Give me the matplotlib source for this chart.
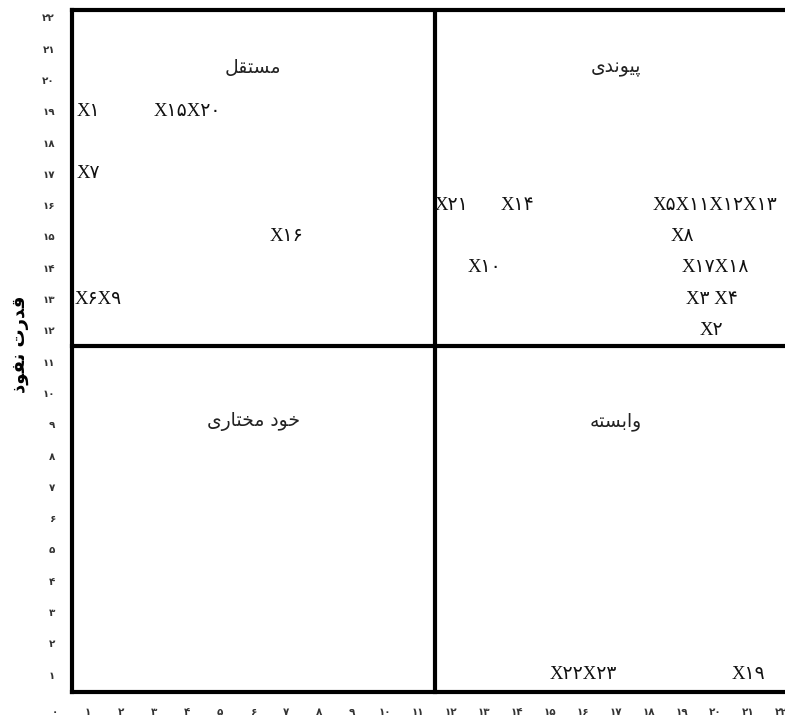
import matplotlib
matplotlib.use("Agg")
import matplotlib.pyplot as plt

# MICMAC map: dependence (x) vs driving power (y)
labels = ["X۱", "X۱۵X۲۰", "X۷", "X۱۶", "X۶X۹",
          "X۲۱", "X۱۴", "X۵X۱۱X۱۲X۱۳", "X۸", "X۱۰", "X۱۷X۱۸", "X۳ X۴", "X۲",
          "X۲۲X۲۳", "X۱۹"]
dependence = [1, 4, 1, 7, 1.3,
              12, 14, 20, 19, 13, 20, 19.9, 19.9,
              16, 21]
driving = [19, 19, 17, 15, 13,
           16, 16, 16, 15, 14, 14, 13, 12,
           1, 1]

quad_names = ["مستقل", "پیوندی", "خود مختاری", "وابسته"]
quad_x = [6, 17, 6, 17]
quad_y = [20.4, 20.4, 9.1, 9.1]

y_title = "قدرت نفوذ"
x_ticks = list(range(0, 23))
y_ticks = list(range(1, 23))

FA_DIGITS = str.maketrans("0123456789", "۰۱۲۳۴۵۶۷۸۹")

# presentation forms: isolated, final, initial, medial
FORMS = {
    "ا": (0xFE8D, 0xFE8E, None, None),
    "ب": (0xFE8F, 0xFE90, 0xFE91, 0xFE92),
    "ت": (0xFE95, 0xFE96, 0xFE97, 0xFE98),
    "خ": (0xFEA5, 0xFEA6, 0xFEA7, 0xFEA8),
    "د": (0xFEA9, 0xFEAA, None, None),
    "ذ": (0xFEAB, 0xFEAC, None, None),
    "ر": (0xFEAD, 0xFEAE, None, None),
    "س": (0xFEB1, 0xFEB2, 0xFEB3, 0xFEB4),
    "ف": (0xFED1, 0xFED2, 0xFED3, 0xFED4),
    "ق": (0xFED5, 0xFED6, 0xFED7, 0xFED8),
    "ل": (0xFEDD, 0xFEDE, 0xFEDF, 0xFEE0),
    "م": (0xFEE1, 0xFEE2, 0xFEE3, 0xFEE4),
    "ن": (0xFEE5, 0xFEE6, 0xFEE7, 0xFEE8),
    "ه": (0xFEE9, 0xFEEA, 0xFEEB, 0xFEEC),
    "و": (0xFEED, 0xFEEE, None, None),
    "پ": (0xFB56, 0xFB57, 0xFB58, 0xFB59),
    "ی": (0xFBFC, 0xFBFD, 0xFBFE, 0xFBFF),
}


def shape(text):
    """Join Persian letters and reverse for left-to-right drawing."""
    out = []
    for i, ch in enumerate(text):
        f = FORMS.get(ch)
        if f is None:
            out.append(ch)
            continue
        prev = FORMS.get(text[i - 1]) if i > 0 else None
        nxt = FORMS.get(text[i + 1]) if i + 1 < len(text) else None
        j_prev = prev is not None and prev[2] is not None
        j_next = f[2] is not None and nxt is not None
        if j_prev and j_next:
            code = f[3]
        elif j_prev:
            code = f[1]
        elif j_next:
            code = f[2]
        else:
            code = f[0]
        out.append(chr(code))
    return "".join(reversed(out))


LO, MID = 0.5, 11.5
XMAX, YMAX = 22.5, 22.25

fig = plt.figure(figsize=(7.85, 7.19), dpi=100)
ax = fig.add_axes([0.0701, 0.0181, 0.9459, 0.9686])
ax.set_xlim(0, XMAX)
ax.set_ylim(0, YMAX)
for s in ax.spines.values():
    s.set_visible(False)

lw = 3
ax.plot([LO, LO], [0.45, YMAX], color="black", lw=lw, solid_capstyle="projecting", clip_on=False)
ax.plot([LO, XMAX], [0.45, 0.45], color="black", lw=lw, solid_capstyle="projecting", clip_on=False)
ax.plot([LO, XMAX], [YMAX - 0.02, YMAX - 0.02], color="black", lw=lw, clip_on=False)
ax.plot([MID, MID], [0.45, YMAX], color="black", lw=lw)
ax.plot([LO, XMAX], [MID, MID], color="black", lw=lw)

ax.set_xticks(x_ticks)
ax.set_yticks(y_ticks)
ax.set_xticklabels([str(t).translate(FA_DIGITS) for t in x_ticks])
ax.set_yticklabels([str(t).translate(FA_DIGITS) for t in y_ticks])
ax.tick_params(length=0, labelsize=7.5, labelcolor="#333333")
ax.tick_params(axis="x", pad=0.5)
ax.tick_params(axis="y", pad=0)
for lab in ax.get_xticklabels() + ax.get_yticklabels():
    lab.set_fontfamily(["DejaVu Sans"])
    lab.set_fontweight("bold")

for lab, x, y in zip(labels, dependence, driving):
    ax.text(x, y, lab, ha="center", va="center", fontsize=13.5, color="#111111",
            family=["Liberation Serif", "DejaVu Sans"])

for name, x, y in zip(quad_names, quad_x, quad_y):
    ax.text(x, y, shape(name), ha="center", va="center", fontsize=13.5,
            color="#222222", family=["DejaVu Sans"])

ax.set_ylabel(shape(y_title), fontsize=13, fontweight="bold", family=["DejaVu Sans"])
ax.yaxis.set_label_coords(-0.035, 0.52)

fig.savefig("out.png", dpi=100)
